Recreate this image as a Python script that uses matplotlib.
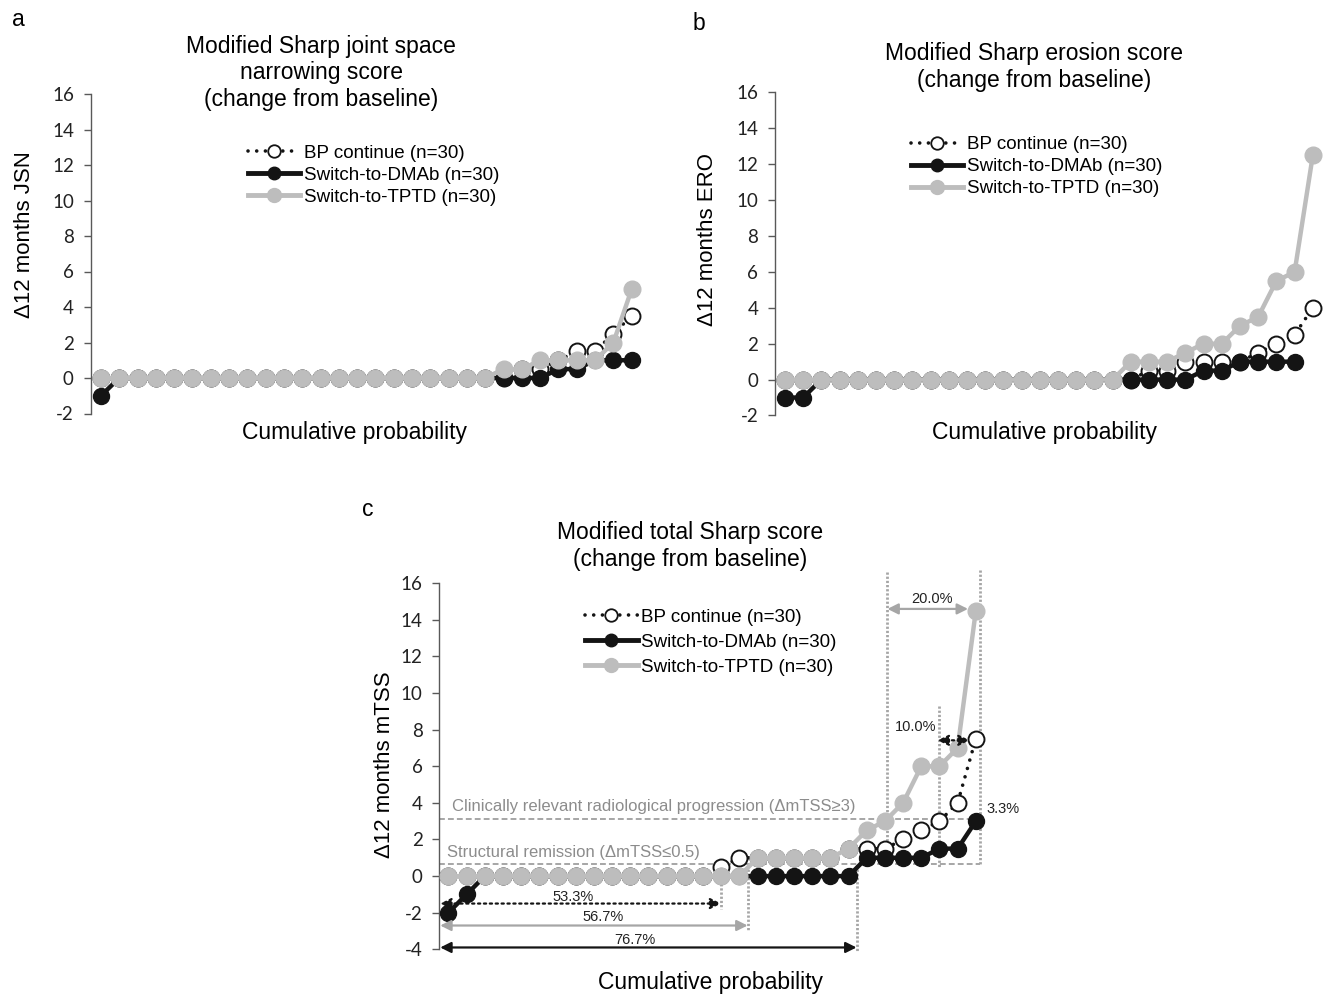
import matplotlib
matplotlib.use("Agg")
import matplotlib.pyplot as plt
from matplotlib.lines import Line2D

plt.rcParams['font.family'] = ['Liberation Sans', 'DejaVu Sans']

W, H = 1331, 994

# --- data (sorted change scores, one per patient) ---
jsn_bp = [0, 0, 0, 0, 0, 0, 0, 0, 0, 0, 0, 0, 0, 0, 0, 0, 0, 0, 0, 0,
          0, 0, 0, 0.5, 0.5, 1, 1.5, 1.5, 2.5, 3.5]
jsn_dmab = [-1, 0, 0, 0, 0, 0, 0, 0, 0, 0, 0, 0, 0, 0, 0, 0, 0, 0, 0, 0,
            0, 0, 0, 0, 0, 0.5, 0.5, 1, 1, 1]
jsn_tptd = [0, 0, 0, 0, 0, 0, 0, 0, 0, 0, 0, 0, 0, 0, 0, 0, 0, 0, 0, 0,
            0, 0, 0.5, 0.5, 1, 1, 1, 1, 2, 5]

ero_bp = [0, 0, 0, 0, 0, 0, 0, 0, 0, 0, 0, 0, 0, 0, 0, 0, 0, 0, 0, 0,
          0.5, 0.5, 1, 1, 1, 1, 1.5, 2, 2.5, 4]
ero_dmab = [-1, -1, 0, 0, 0, 0, 0, 0, 0, 0, 0, 0, 0, 0, 0, 0, 0, 0, 0, 0,
            0, 0, 0, 0.5, 0.5, 1, 1, 1, 1]
ero_tptd = [0, 0, 0, 0, 0, 0, 0, 0, 0, 0, 0, 0, 0, 0, 0, 0, 0, 0, 0, 1,
            1, 1, 1.5, 2, 2, 3, 3.5, 5.5, 6, 12.5]

tss_bp = [0, 0, 0, 0, 0, 0, 0, 0, 0, 0, 0, 0, 0, 0, 0, 0.5, 1, 1, 1, 1,
          1, 1, 1.5, 1.5, 1.5, 2, 2.5, 3, 4, 7.5]
tss_dmab = [-2, -1, 0, 0, 0, 0, 0, 0, 0, 0, 0, 0, 0, 0, 0, 0, 0, 0, 0, 0,
            0, 0, 0, 1, 1, 1, 1, 1.5, 1.5, 3]
tss_tptd = [0, 0, 0, 0, 0, 0, 0, 0, 0, 0, 0, 0, 0, 0, 0, 0, 0, 1, 1, 1,
            1, 1, 1.5, 2.5, 3, 4, 6, 6, 7, 14.5]

labels = ['BP continue (n=30)', 'Switch-to-DMAb (n=30)', 'Switch-to-TPTD (n=30)']

BLACK = '#141414'
GREY = '#bdbdbd'
AXC = '#595959'
ANN = '#a6a6a6'
DOTS = (0, (0.01, 2.4))


def fx(x):
    return x / W


def fy(y):
    return 1 - y / H


def rect(left, right, top, bottom):
    return [fx(left), fy(bottom), (right - left) / W, (bottom - top) / H]


def style_axis(ax, ymin, xlim):
    for s in ['top', 'right', 'bottom']:
        ax.spines[s].set_visible(False)
    ax.spines['left'].set_color(AXC)
    ax.spines['left'].set_linewidth(1)
    ticks = list(range(ymin, 17, 2))
    ax.set_yticks(ticks, labels=[str(t) for t in ticks], fontfamily='Lato', fontsize=13.5)
    ax.tick_params(axis='y', direction='out', length=5, width=1, color=AXC, pad=7, labelcolor='#222222')
    ax.set_xticks([])
    ax.set_ylim(ymin, 16)
    ax.set_xlim(*xlim)


def draw_series(ax, bp, dmab, tptd):
    ax.plot(range(1, len(bp) + 1), bp, color=BLACK, ls=DOTS, lw=2.6, dash_capstyle='round',
            marker='o', ms=11.5, mfc='white', mec=BLACK, mew=1.4, zorder=3)
    ax.plot(range(1, len(dmab) + 1), dmab, color=BLACK, lw=3.2, marker='o', ms=11.5, zorder=4)
    ax.plot(range(1, len(tptd) + 1), tptd, color=GREY, lw=3.2, marker='o', ms=12, zorder=5)


def add_legend(ax, left, ymid, spacing):
    hs = [Line2D([], [], color=BLACK, ls=DOTS, lw=2.6, dash_capstyle='round', marker='o',
                 ms=9, mfc='white', mec=BLACK, mew=1.3),
          Line2D([], [], color=BLACK, lw=3.5, marker='o', ms=9),
          Line2D([], [], color=GREY, lw=3.5, marker='o', ms=10)]
    ax.legend(hs, labels, loc='center left', bbox_to_anchor=(fx(left), fy(ymid)),
              bbox_transform=fig.transFigure, frameon=False, fontsize=13.5,
              handlelength=2.8, handletextpad=0.2, labelspacing=spacing,
              borderpad=0, borderaxespad=0)


fig = plt.figure(figsize=(W / 100, H / 100), dpi=100)

# panel a
ax_a = fig.add_axes(rect(90.5, 650, 94, 413.5))
style_axis(ax_a, -2, (0.43, 31))
draw_series(ax_a, jsn_bp, jsn_dmab, jsn_tptd)
add_legend(ax_a, 248, 175, 0.26)

# panel b
ax_b = fig.add_axes(rect(775, 1331, 92.5, 415.5))
style_axis(ax_b, -2, (0.45, 31))
draw_series(ax_b, ero_bp, ero_dmab, ero_tptd)
add_legend(ax_b, 911, 166.5, 0.26)

# panel c
ax_c = fig.add_axes(rect(439.3, 994, 583.3, 949.3))
style_axis(ax_c, -4, (0.5, 31))
draw_series(ax_c, tss_bp, tss_dmab, tss_tptd)
add_legend(ax_c, 585, 642, 0.42)

# threshold lines and their captions
ax_c.plot([0.5, 30.25], [3.1, 3.1], color=ANN, lw=1.4, ls=(0, (3, 1.6)), zorder=2)
ax_c.plot([0.5, 30.25], [0.65, 0.65], color=ANN, lw=1.4, ls=(0, (3, 1.6)), zorder=2)
ax_c.text(1.2, 3.78, 'Clinically relevant radiological progression (ΔmTSS≥3)',
          color='#8c8c8c', fontsize=12, ha='left', va='center')
ax_c.text(0.9, 1.27, 'Structural remission (ΔmTSS≤0.5)',
          color='#8c8c8c', fontsize=12, ha='left', va='center')

# dotted guide lines
vguides = [(16, 0.5, -1.8), (17.45, 0.6, -3.0), (23.44, 0.6, -4.1),
           (25.14, 16.6, 0.5), (28.0, 9.3, 0.45), (30.25, 16.7, 0.6)]
for xg, y1, y2 in vguides:
    ax_c.plot([xg, xg], [y1, y2], color=ANN, lw=2, ls=(0, (0.8, 0.7)), zorder=2, clip_on=False)


def span(x1, x2, y, color, ls, label, lx, ly):
    ax_c.annotate('', xy=(x2, y), xytext=(x1, y),
                  arrowprops=dict(arrowstyle='<|-|>', color=color, lw=1.6, ls=ls,
                                  mutation_scale=16, shrinkA=0, shrinkB=0), zorder=6)
    ax_c.text(lx, ly, label, fontsize=10.5, ha='center', va='center', color='#222222', zorder=7)


span(0.55, 16, -1.5, BLACK, ':', '53.3%', 7.85, -1.15)
span(0.55, 17.45, -2.7, ANN, '-', '56.7%', 9.5, -2.24)
span(0.55, 23.44, -3.9, BLACK, '-', '76.7%', 11.25, -3.5)
span(25.14, 29.57, 14.6, ANN, '-', '20.0%', 27.6, 15.15)
span(27.9, 29.66, 7.42, BLACK, ':', '10.0%', 26.7, 8.15)
ax_c.text(31.5, 3.69, '3.3%', fontsize=10.5, ha='center', va='center', color='#222222')

# titles, axis labels and panel letters
fig.text(fx(321), fy(73), 'Modified Sharp joint space\nnarrowing score\n(change from baseline)',
         fontsize=16.5, ha='center', va='center', linespacing=1.18)
fig.text(fx(1034), fy(67), 'Modified Sharp erosion score\n(change from baseline)',
         fontsize=16.5, ha='center', va='center', linespacing=1.18)
fig.text(fx(690), fy(546), 'Modified total Sharp score\n(change from baseline)',
         fontsize=16.5, ha='center', va='center', linespacing=1.18)

fig.text(fx(25), fy(235), 'Δ12 months JSN', rotation=90, fontsize=16, ha='center', va='center')
fig.text(fx(707), fy(240), 'Δ12 months ERO', rotation=90, fontsize=16, ha='center', va='center')
fig.text(fx(385), fy(765), 'Δ12 months mTSS', rotation=90, fontsize=16, ha='center', va='center')

fig.text(fx(355), fy(433), 'Cumulative probability', fontsize=16.5, ha='center', va='center')
fig.text(fx(1045), fy(433), 'Cumulative probability', fontsize=16.5, ha='center', va='center')
fig.text(fx(710), fy(983), 'Cumulative probability', fontsize=16.5, ha='center', va='center')

fig.text(fx(18), fy(20), 'a', fontsize=16.5, ha='center', va='center')
fig.text(fx(699), fy(23), 'b', fontsize=16.5, ha='center', va='center')
fig.text(fx(368), fy(510), 'c', fontsize=16.5, ha='center', va='center')

fig.savefig('out.png', dpi=100)
